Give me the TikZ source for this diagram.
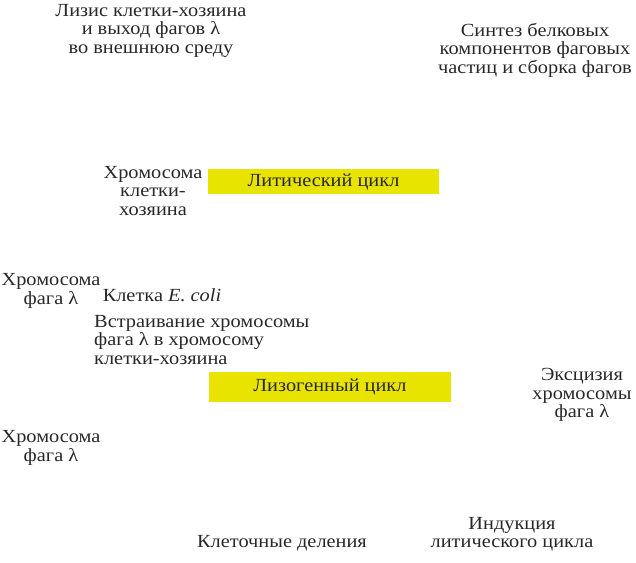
\documentclass[tikz,border=0pt]{standalone}
\usepackage{fontspec}
\setmainfont[FakeStretch=1.1]{Liberation Serif}
\definecolor{boxyellow}{RGB}{232,228,0}
\definecolor{txt}{RGB}{40,40,40}
\begin{document}
\begin{tikzpicture}[x=1bp,y=-1bp,
  lbl/.style={inner sep=0pt,align=center,text=txt,font=\fontsize{18.5bp}{18.5bp}\selectfont},
  cyclebox/.style={inner sep=0pt,fill=boxyellow,text=txt,font=\fontsize{18.5bp}{18.5bp}\selectfont}]
\useasboundingbox (0,0) rectangle (636,563);
\node[lbl] (lysis) at (151,30.5) {Лизис клетки-хозяина\\и выход фагов λ\\во внешнюю среду};
\node[lbl] (synth) at (535,50) {Синтез белковых\\компонентов фаговых\\частиц и сборка фагов};
\node[lbl] (hostchr) at (153,191) {Хромосома\\клетки-\\хозяина};
\node[cyclebox,minimum width=231bp,minimum height=25bp] (lytic) at (323.5,181.5) {Литический цикл};
\node[lbl] (phchr1) at (51,291) {Хромосома\\фага λ};
\node[lbl] (ecoli) at (162,295) {Клетка \textit{E. coli}};
\node[lbl,align=left,anchor=west] (integr) at (94,340) {Встраивание хромосомы\\фага λ в хромосому\\клетки-хозяина};
\node[cyclebox,minimum width=242bp,minimum height=30bp] (lysog) at (330,387) {Лизогенный цикл};
\node[lbl] (phchr2) at (51,448) {Хромосома\\фага λ};
\node[lbl] (excis) at (582,395) {Эксцизия\\хромосомы\\фага λ};
\node[lbl] (divis) at (282,543) {Клеточные деления};
\node[lbl] (induct) at (512,534) {Индукция\\литического цикла};
\end{tikzpicture}
\end{document}
